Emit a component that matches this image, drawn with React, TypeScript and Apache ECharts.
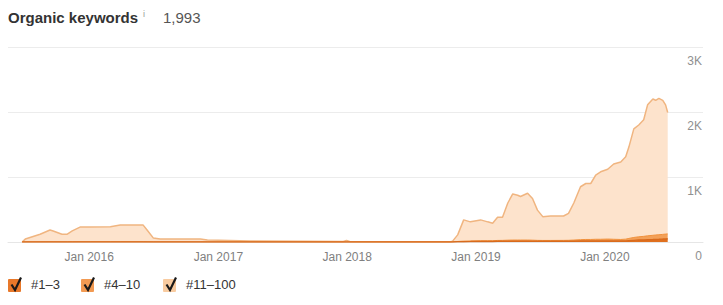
import React, { useEffect, useRef } from "react";
import * as echarts from "echarts";

const dates: string[] = [
  "2015-06-25", "2015-07-04", "2015-08-15", "2015-09-12", "2015-09-21", "2015-10-16",
  "2015-10-31", "2015-11-14", "2015-12-06", "2016-01-04", "2016-03-01", "2016-03-29",
  "2016-06-02", "2016-06-13", "2016-07-01", "2016-07-20", "2016-11-11", "2016-12-01",
  "2017-04-02", "2017-08-21", "2017-12-21", "2017-12-30", "2018-01-08", "2018-06-01",
  "2018-10-21", "2018-10-26", "2018-11-10", "2018-11-27", "2018-12-16", "2019-01-14",
  "2019-02-03", "2019-02-17", "2019-03-03", "2019-03-17", "2019-04-01", "2019-04-15",
  "2019-04-29", "2019-05-07", "2019-05-27", "2019-06-10", "2019-06-24", "2019-07-09",
  "2019-07-31", "2019-09-06", "2019-09-20", "2019-10-05", "2019-10-24", "2019-11-08",
  "2019-11-22", "2019-12-06", "2019-12-20", "2020-01-09", "2020-01-26", "2020-02-15",
  "2020-02-29", "2020-03-09", "2020-03-23", "2020-04-06", "2020-04-20", "2020-05-01",
  "2020-05-16", "2020-05-24", "2020-06-02", "2020-06-13", "2020-06-21", "2020-06-27",
];

// Total organic keywords (all positions 1–100)
const totalKeywords: number[] = [
  0, 45, 120, 185, 170, 120,
  120, 170, 230, 230, 235, 260,
  260, 185, 60, 45, 45, 30,
  15, 10, 8, 25, 8, 5,
  5, 10, 110, 340, 310, 340,
  310, 290, 380, 380, 600, 740,
  720, 700, 750, 670, 490, 390,
  400, 400, 440, 600, 850, 900,
  900, 1030, 1080, 1120, 1200, 1230,
  1310, 1460, 1740, 1800, 1880, 2110,
  2200, 2180, 2210, 2180, 2110, 1993,
];

// Positions #1–3
const top3: number[] = [
  0, 0, 0, 0, 0, 0,
  0, 0, 0, 0, 0, 0,
  0, 0, 0, 0, 0, 0,
  0, 0, 0, 0, 0, 0,
  0, 0, 3, 5, 6, 8,
  8, 8, 10, 10, 12, 12,
  12, 12, 12, 12, 10, 10,
  10, 10, 10, 12, 14, 15,
  15, 16, 16, 17, 16, 15,
  16, 20, 25, 30, 32, 35,
  38, 40, 42, 45, 48, 50,
];

// Positions #4–10
const top10: number[] = [
  0, 2, 3, 4, 4, 3,
  3, 4, 5, 5, 5, 5,
  5, 4, 2, 2, 2, 1,
  1, 0, 0, 0, 0, 0,
  0, 1, 5, 8, 10, 12,
  12, 12, 14, 15, 16, 18,
  18, 18, 18, 16, 15, 14,
  14, 15, 16, 18, 22, 24,
  24, 26, 26, 28, 26, 24,
  28, 35, 45, 50, 55, 60,
  65, 68, 70, 72, 74, 75,
];

const yTicks: string[] = ["0", "1K", "2K", "3K"];
const legendItems: string[] = ["#1–3", "#4–10", "#11–100"];

const FONT = 'Arial, "Liberation Sans", Helvetica, sans-serif';

export default function App() {
  const ref = useRef<HTMLDivElement>(null);

  useEffect(() => {
    if (!ref.current) return;
    const chart = echarts.init(ref.current, undefined, { renderer: "svg" });

    const rest = totalKeywords.map((t, i) => Math.max(0, t - top3[i] - top10[i]));
    const mk = (arr: number[]) => dates.map((d, i) => [d, arr[i]]);

    const legendColors = ["#e8782a", "#f29a52", "#f8cba0"];
    const legendX = [8, 81, 163];

    const legendGraphics: any[] = [];
    legendItems.forEach((name, i) => {
      const x = legendX[i];
      const y = 279;
      legendGraphics.push({
        type: "rect",
        shape: { x, y, width: 13, height: 13, r: 1 },
        style: { fill: legendColors[i] },
        z: 10,
      });
      legendGraphics.push({
        type: "polyline",
        shape: { points: [[x + 3.5, y + 5.5], [x + 7, y + 11], [x + 13, y - 1.5]] },
        style: { stroke: "#1a1a1a", lineWidth: 2.2, fill: null },
        z: 11,
      });
      legendGraphics.push({
        type: "text",
        x: x + 23,
        y: 284,
        style: {
          text: name,
          fill: "#333",
          font: `13px ${FONT}`,
          verticalAlign: "middle",
        },
        z: 10,
      });
    });

    const option: any = {
      animation: false,
      grid: { left: 8, right: 20, top: 47, bottom: 63, containLabel: false },
      xAxis: {
        type: "time",
        min: "2015-05-16",
        max: "2020-10-05",
        axisLine: { show: true, lineStyle: { color: "#e6e6e6", width: 1 } },
        axisTick: { show: false },
        splitLine: { show: false },
        axisLabel: {
          color: "#808080",
          fontSize: 12,
          fontFamily: FONT,
          margin: 9,
          hideOverlap: false,
          formatter: (v: number) => {
            const d = new Date(v);
            return d.getMonth() === 0 && d.getDate() === 1 ? "Jan " + d.getFullYear() : "";
          },
        },
      },
      yAxis: {
        type: "value",
        position: "right",
        min: 0,
        max: 3000,
        interval: 1000,
        axisLine: { show: false },
        axisTick: { show: false },
        splitLine: { show: true, lineStyle: { color: "#ececec", width: 1 } },
        axisLabel: {
          inside: true,
          margin: 1,
          align: "right",
          verticalAlign: "top",
          padding: [8, 0, 0, 0],
          color: "#909090",
          fontSize: 12,
          fontFamily: FONT,
          formatter: (v: number) => yTicks[Math.round(v / 1000)],
        },
      },
      series: [
        {
          name: legendItems[0],
          type: "line",
          stack: "kw",
          data: mk(top3),
          symbol: "none",
          lineStyle: { color: "#d86a1c", width: 1.5 },
          areaStyle: { color: "#e0701e", opacity: 1 },
          z: 4,
        },
        {
          name: legendItems[1],
          type: "line",
          stack: "kw",
          data: mk(top10),
          symbol: "none",
          lineStyle: { color: "#f0913c", width: 1 },
          areaStyle: { color: "#f3a058", opacity: 1 },
          z: 3,
        },
        {
          name: legendItems[2],
          type: "line",
          stack: "kw",
          data: mk(rest),
          symbol: "none",
          lineStyle: { color: "#f0b580", width: 1.5 },
          areaStyle: { color: "#fde3cc", opacity: 1 },
          z: 2,
        },
      ],
      graphic: [
        {
          type: "text",
          x: 8,
          y: 17,
          style: {
            text: "Organic keywords",
            fill: "#333",
            font: `bold 15px ${FONT}`,
            verticalAlign: "middle",
          },
        },
        {
          type: "text",
          x: 143,
          y: 14,
          style: {
            text: "i",
            fill: "#999",
            font: `9px ${FONT}`,
            verticalAlign: "middle",
          },
        },
        {
          type: "text",
          x: 163,
          y: 17,
          style: {
            text: "1,993",
            fill: "#555",
            font: `15px ${FONT}`,
            verticalAlign: "middle",
          },
        },
        ...legendGraphics,
      ],
    };

    chart.setOption(option);
    return () => chart.dispose();
  }, []);

  return (
    <div
      ref={ref}
      style={{ position: "fixed", left: 0, top: 0, width: 723, height: 305, background: "#fff" }}
    />
  );
}
